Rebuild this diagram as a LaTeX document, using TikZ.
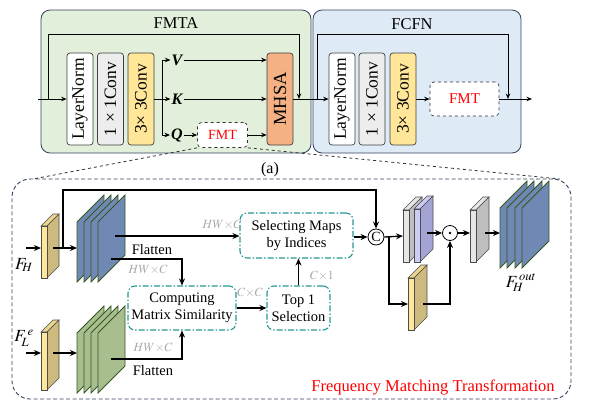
\documentclass[tikz,border=0pt]{standalone}
\usepackage{graphicx}
\usepackage{mathptmx}
\usepackage[no-math]{fontspec}
\setmainfont{Liberation Serif}
\usetikzlibrary{calc,arrows.meta}

\definecolor{fmtagreen}{RGB}{226,239,218}
\definecolor{fcfnblue}{RGB}{222,235,247}
\definecolor{framenavy}{RGB}{52,66,96}
\definecolor{convgray}{RGB}{237,237,237}
\definecolor{convyellow}{RGB}{255,230,153}
\definecolor{mhsaorange}{RGB}{244,177,131}
\definecolor{dashteal}{RGB}{38,150,150}
\definecolor{dimgraytxt}{RGB}{170,170,170}
\definecolor{sheetblue}{RGB}{112,136,180}
\definecolor{sheetgreen}{RGB}{168,190,142}
\definecolor{sheetedge}{RGB}{55,86,35}
\definecolor{cubeside}{RGB}{204,186,126}
\definecolor{cubetop}{RGB}{236,214,140}
\definecolor{grayfront}{RGB}{230,230,230}
\definecolor{grayside}{RGB}{190,190,190}
\definecolor{lavfront}{RGB}{204,204,245}
\definecolor{lavside}{RGB}{164,164,212}

% x, ytop, width, height, depth, front, side, top
\newcommand{\cuboid}[8]{%
  \filldraw[fill=#8,draw=black!70,line width=0.6pt] (#1,#2) -- ++(#5,-#5) -- ++(#3,0) -- ++(-#5,#5) -- cycle;
  \filldraw[fill=#7,draw=black!70,line width=0.6pt] (#1+#3,#2) -- ++(#5,-#5) -- ++(0,#4) -- ++(-#5,#5) -- cycle;
  \filldraw[fill=#6,draw=black!70,line width=0.6pt] (#1,#2) rectangle ++(#3,#4);
}
% x, ybottom, colour
\newcommand{\fmsheet}[3]{%
  \filldraw[fill=#3,draw=sheetedge,line width=0.8pt] (#1,#2) -- ++(0,-60) -- ++(27,-27) -- ++(0,60) -- cycle;
}

\begin{document}
\begin{tikzpicture}[x=1pt,y=-1pt,
  arr/.style={-{Stealth[length=5.5pt,width=4.5pt]},line width=0.8pt},
  tarr/.style={-{Stealth[length=7pt,width=6pt]},line width=1.3pt},
  panel/.style={draw=framenavy,line width=0.8pt,rounded corners=9pt,inner sep=0pt},
  blk/.style={draw=black!75,line width=0.7pt,rounded corners=3pt,minimum width=26pt,
    minimum height=92pt,inner sep=0pt,font=\fontsize{17.5}{18}\selectfont},
  fmtbox/.style={draw=black!80,dashed,line width=0.7pt,fill=white,rounded corners=4pt,
    inner sep=0pt,text=red},
  qkv/.style={inner sep=1pt,font=\fontsize{16}{16}\selectfont\bfseries\itshape},
  dotbox/.style={draw=dashteal,line width=1.1pt,dash pattern=on 6pt off 2pt on 1.5pt off 2pt,
    rounded corners=7pt,inner sep=0pt,align=center,font=\fontsize{14.5}{17}\selectfont},
  dimtxt/.style={text=dimgraytxt,font=\fontsize{12.5}{13}\selectfont},
  optxt/.style={draw=black,line width=0.8pt,circle,inner sep=0pt}]
  \useasboundingbox (0,0) rectangle (592,405);

  % (a) FMTA and FCFN
  \node[panel,fill=fmtagreen,minimum width=270pt,minimum height=143pt] (fmta) at (176,81.5) {};
  \node[panel,fill=fcfnblue,minimum width=208pt,minimum height=143pt] (fcfn) at (417,81.5) {};
  \node[font=\fontsize{16.5}{17}\selectfont] (fmtalbl) at (176,23) {FMTA};
  \node[font=\fontsize{16.5}{17}\selectfont] (fcfnlbl) at (412,24) {FCFN};

  \node[blk,fill=white] (ln1) at (80,99) {\rotatebox{90}{LayerNorm}};
  \node[blk,fill=convgray] (cv1a) at (110.5,99) {\rotatebox{90}{1 × 1Conv}};
  \node[blk,fill=convyellow] (cv3a) at (141,99) {\rotatebox{90}{3× 3Conv}};
  \node[blk,fill=mhsaorange,font=\fontsize{18.5}{19}\selectfont] (mhsa) at (280,99) {\rotatebox{90}{MHSA}};
  \node[fmtbox,minimum width=50pt,minimum height=25pt,font=\fontsize{14}{14}\selectfont] (fmt1) at (222.5,135) {FMT};

  \node[blk,fill=white] (ln2) at (342,99) {\rotatebox{90}{LayerNorm}};
  \node[blk,fill=convgray] (cv1b) at (372,99) {\rotatebox{90}{1 × 1Conv}};
  \node[blk,fill=convyellow] (cv3b) at (403,99) {\rotatebox{90}{3× 3Conv}};
  \node[fmtbox,minimum width=69pt,minimum height=34pt,font=\fontsize{15}{15}\selectfont] (fmt2) at (464.5,99) {FMT};

  \node[qkv] (vlab) at (177,60) {V};
  \node[qkv] (klab) at (177,99) {K};
  \node[qkv] (qlab) at (177,135) {Q};

  \coordinate (in1) at (38,99);
  \coordinate (s1) at (48,99);
  \coordinate (j1) at (299,99);
  \coordinate (s2) at (317,99);
  \coordinate (j2) at (508,99);
  \coordinate (out1) at (532,99);
  \coordinate (br) at (162,99);

  \draw[arr] (in1) -- (ln1.west);
  \draw[arr] (s1) -- ++(0,-65) -| (j1);
  \draw (cv3a.east) -- (br);
  \draw[line width=0.8pt] (br |- vlab) -- (br |- qlab);
  \draw[arr] (br |- vlab) -- (vlab.west);
  \draw[arr] (br) -- (klab.west);
  \draw[arr] (br |- qlab) -- (qlab.west);
  \draw[arr] (vlab.east) -- (vlab.east -| mhsa.west);
  \draw[arr] (klab.east) -- (klab.east -| mhsa.west);
  \draw[arr] (qlab.east) -- (fmt1.west);
  \draw[arr] (fmt1.east) -- (fmt1.east -| mhsa.west);
  \draw[arr] (mhsa.east) -- (ln2.west);
  \draw[arr] (s2) -- ++(0,-65) -| (j2);
  \draw[arr] (cv3b.east) -- (fmt2.west);
  \draw[arr] (fmt2.east) -- (out1);

  \node[font=\fontsize{16}{16}\selectfont] (lbla) at (270,170) {(a)};

  % FMT
  \node[draw=framenavy,dash pattern=on 4pt off 2.5pt,line width=0.9pt,rounded corners=18pt,
    minimum width=559pt,minimum height=220pt] (fmtframe) at (291.5,289) {};
  \coordinate (z1) at (33,179);
  \coordinate (z2) at (560,179);
  \draw[dashed,line width=0.8pt,black!80] (fmt1.south west) -- (z1);
  \draw[dashed,line width=0.8pt,black!80] (fmt1.south east) -- (z2);

  \cuboid{41}{226}{6}{52}{12}{convyellow}{cubeside}{cubetop}
  \cuboid{41}{332}{6}{58}{12}{convyellow}{cubeside}{cubetop}
  \foreach \x in {77,84,91,98} {\fmsheet{\x}{282}{sheetblue}}
  \foreach \x in {77,84,91,98} {\fmsheet{\x}{393}{sheetgreen}}

  \node[font=\fontsize{17}{17}\selectfont,inner sep=0pt] (fh) at (24,265) {$F_{\!H}$};
  \node[font=\fontsize{17}{17}\selectfont,inner sep=0pt] (fle) at (24,338) {$F_{\!L}^{\,e}$};

  \coordinate (fhin) at (26,248);
  \coordinate (fhcube) at (41,248);
  \coordinate (fhside) at (53,248);
  \coordinate (bstack) at (77,248);
  \coordinate (flin) at (26,353);
  \coordinate (flcube) at (41,353);
  \coordinate (flside) at (53,353);
  \coordinate (gstack) at (77,353);
  \coordinate (skip) at (63,248);
  \coordinate (bmap) at (115,236);
  \coordinate (bflat) at (111,259);
  \coordinate (gflat) at (111,359);

  \node[dotbox,minimum width=113pt,minimum height=45pt] (sel) at (296.5,235.5) {Selecting Maps\\by Indices};
  \node[dotbox,minimum width=108pt,minimum height=44pt] (cms) at (182,308) {Computing\\Matrix Similarity};
  \node[dotbox,minimum width=63pt,minimum height=44pt] (top1) at (298.5,308) {Top 1\\Selection};
  \node[optxt,minimum size=16pt,font=\fontsize{14}{14}\selectfont] (cc) at (376,237) {C};
  \node[optxt,minimum size=15pt] (dot) at (450,233) {};
  \fill (dot.center) circle (1.3pt);

  \node[dimtxt] (d1) at (222,225) {$HW{\times}C$};
  \node[dimtxt] (d2) at (148,270) {$HW{\times}C$};
  \node[dimtxt] (d3) at (153,348) {$HW{\times}C$};
  \node[dimtxt] (d4) at (250,293) {$C{\times}C$};
  \node[dimtxt] (d5) at (322,276) {$C{\times}1$};
  \node[font=\fontsize{14.5}{15}\selectfont] (fl1) at (152,250) {Flatten};
  \node[font=\fontsize{14.5}{15}\selectfont] (fl2) at (153,371) {Flatten};

  \draw[tarr] (fhin) -- (fhcube);
  \draw[tarr] (flin) -- (flcube);
  \draw[tarr] (fhside) -- (bstack);
  \draw[tarr] (flside) -- (gstack);
  \draw[tarr] (skip) -- ++(0,-58) -| (cc.north);
  \draw[tarr] (bmap) -- (bmap -| sel.west);
  \draw[tarr] (bflat) -| (cms.north);
  \draw[tarr] (gflat) -| (cms.south);
  \draw[tarr] (cms.east) -- (top1.west);
  \draw[tarr] (top1.north) -- (top1.north |- sel.south);
  \draw[tarr] (sel.east |- cc) -- (cc.west);

  \cuboid{403}{210}{6}{52}{13}{grayfront}{grayside}{grayfront}
  \cuboid{414}{209}{6}{53}{13}{lavfront}{lavside}{lavfront}
  \cuboid{408}{278}{6}{52}{13}{convyellow}{cubeside}{cubetop}
  \cuboid{470}{210}{6}{52}{13}{grayfront}{grayside}{grayfront}
  \foreach \x in {500,507,515,522} {\fmsheet{\x}{268}{sheetblue}}

  \coordinate (catbr) at (389,237);
  \coordinate (pstack) at (403,236);
  \coordinate (pout) at (427,233);
  \coordinate (ycube) at (408,304);
  \coordinate (yout) at (423,304);
  \coordinate (gcube) at (470,233);
  \coordinate (gout) at (485,233);
  \coordinate (ostack) at (500,233);

  \draw[tarr] (cc.east) -- (pstack);
  \draw[tarr] (catbr) |- (ycube);
  \draw[tarr] (pout) -- (dot.west);
  \draw[tarr] (yout) -| (dot.south);
  \draw[tarr] (dot.east) -- (gcube);
  \draw[tarr] (gout) -- (ostack);

  \node[font=\fontsize{17}{17}\selectfont,inner sep=0pt] (fhout) at (521,283) {$F_{\!H}^{\,out}$};
  \node[text=red,font=\fontsize{16.5}{17}\selectfont] (fmtname) at (433,387) {Frequency Matching Transformation};
\end{tikzpicture}
\end{document}
